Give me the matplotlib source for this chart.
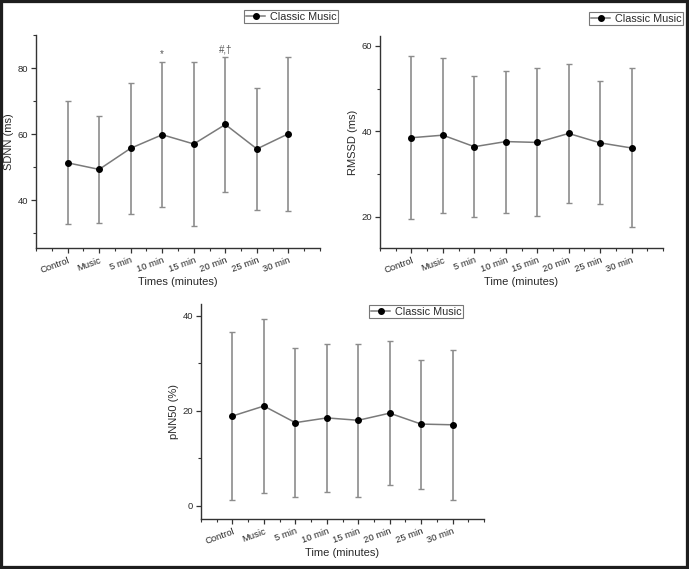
import matplotlib
matplotlib.use("Agg")
import matplotlib.pyplot as plt
from matplotlib.patches import Rectangle
from matplotlib.ticker import MultipleLocator
import numpy as np

plt.rcParams['font.family'] = ['Liberation Sans', 'DejaVu Sans']

categories = ["Control", "Music", "5 min", "10 min", "15 min", "20 min", "25 min", "30 min"]

sdnn_mean = [51.3, 49.3, 55.7, 59.8, 57.0, 62.9, 55.5, 60.1]
sdnn_sd = [18.6, 16.2, 19.8, 22.0, 24.8, 20.5, 18.5, 23.3]

rmssd_mean = [38.5, 39.1, 36.4, 37.6, 37.4, 39.5, 37.3, 36.1]
rmssd_sd = [19.1, 18.1, 16.5, 16.6, 17.3, 16.3, 14.4, 18.6]

pnn50_mean = [18.9, 21.0, 17.5, 18.5, 18.0, 19.5, 17.2, 17.05]
pnn50_sd = [17.8, 18.3, 15.7, 15.6, 16.1, 15.2, 13.6, 15.8]

annotations = {3: "*", 5: "#,\u2020"}

W, H = 689, 569
fig = plt.figure(figsize=(W / 100, H / 100), dpi=100)
fig.patch.set_facecolor('white')

x = np.arange(1, len(categories) + 1)

def make_panel(rect, mean, sd, ylim, ylabel, xlabel, legend_anchor, notes=None):
    ax = fig.add_axes(rect)
    ax.errorbar(x, mean, yerr=sd, fmt='none', ecolor='#8c8c8c', elinewidth=1.2,
                capsize=2.5, capthick=1.0, zorder=2)
    ln, = ax.plot(x, mean, color='#7a7a7a', lw=1.1, marker='o', markersize=4,
                  markerfacecolor='black', markeredgecolor='black', zorder=3,
                  label='Classic Music')
    ax.set_xlim(0, 9)
    ax.set_ylim(*ylim)
    ax.spines['top'].set_visible(False)
    ax.spines['right'].set_visible(False)
    for s in ('left', 'bottom'):
        ax.spines[s].set_color('#333333')
        ax.spines[s].set_linewidth(1.0)
    ax.set_xticks(x)
    ax.set_xticklabels(categories, rotation=20, ha='right', rotation_mode='anchor',
                       fontsize=6.5, color='#333333')
    ax.xaxis.set_minor_locator(MultipleLocator(0.5))
    ax.yaxis.set_major_locator(MultipleLocator(20))
    ax.yaxis.set_minor_locator(MultipleLocator(10))
    ax.tick_params(axis='both', which='major', direction='out', length=3.5, width=0.9,
                   color='#333333', labelsize=6.8, labelcolor='#2a2a2a', pad=2)
    ax.tick_params(axis='both', which='minor', direction='out', length=2.2, width=0.8,
                   color='#333333')
    ax.set_ylabel(ylabel, fontsize=8, color='#2a2a2a', labelpad=3)
    ax.set_xlabel(xlabel, fontsize=8, color='#2a2a2a', labelpad=2)
    if notes:
        for i, t in notes.items():
            ax.annotate(t, (x[i], mean[i] + sd[i]), xytext=(0, 2),
                        textcoords='offset points', ha='center', va='bottom',
                        fontsize=7, color='#555555')
    leg = ax.legend(handles=[ln], loc='upper right', bbox_to_anchor=legend_anchor,
                    bbox_transform=fig.transFigure, fontsize=7.8, frameon=True,
                    fancybox=False, edgecolor='#777777', framealpha=1,
                    borderpad=0.15, handlelength=1.8, handletextpad=0.4,
                    borderaxespad=0)
    leg.get_frame().set_linewidth(0.8)
    for t in leg.get_texts():
        t.set_color('#2a2a2a')
    return ax

make_panel([36 / W, 1 - 248 / H, (320 - 36) / W, (248 - 35) / H],
           sdnn_mean, sdnn_sd, (25.5, 90), "SDNN (ms)", "Times (minutes)",
           (338 / W, 1 - 10 / H), annotations)
make_panel([380 / W, 1 - 248 / H, (663 - 380) / W, (248 - 36) / H],
           rmssd_mean, rmssd_sd, (12.7, 62.3), "RMSSD (ms)", "Time (minutes)",
           (683 / W, 1 - 12 / H))
make_panel([201 / W, 1 - 519 / H, (484 - 201) / W, (519 - 304) / H],
           pnn50_mean, pnn50_sd, (-2.8, 42.5), "pNN50 (%)", "Time (minutes)",
           (463 / W, 1 - 305 / H))

fig.add_artist(Rectangle((0, 0), 1, 1, fill=False, edgecolor='#1e1e1e', lw=4.5,
                         transform=fig.transFigure, clip_on=False))

fig.savefig("out.png", dpi=100, facecolor='white')
